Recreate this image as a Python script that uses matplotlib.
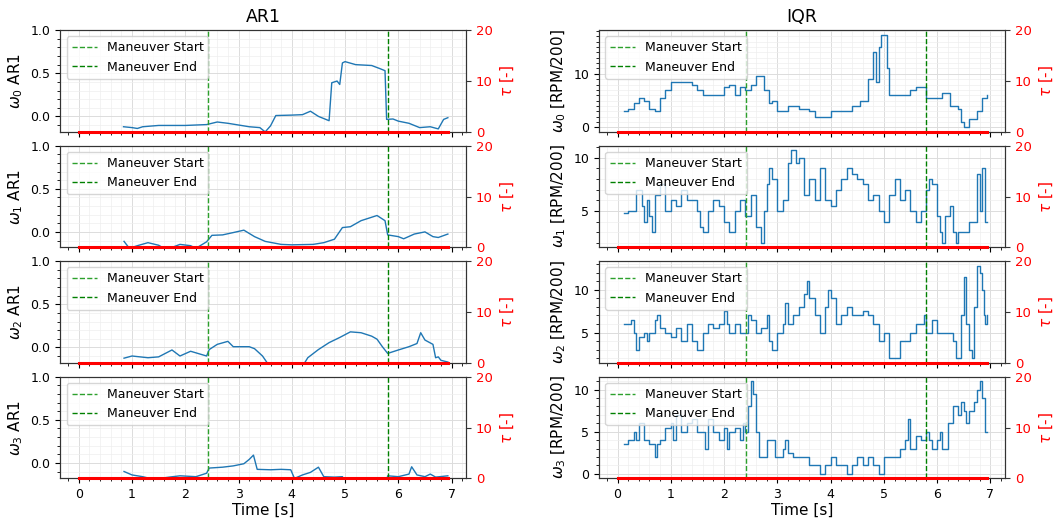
import matplotlib.pyplot as plt
from matplotlib.ticker import MultipleLocator
import numpy as np

# maneuver window [s]
maneuver_start = 2.42
maneuver_end = 5.80

# tau series (stays at zero over the whole record)
tau_t = [0.0, 6.93]
tau_v = [0.0, 0.0]

# ---- AR1 coefficients, one (time, value) pair of lists per motor ----
ar1_t0 = [0.84, 1.0, 1.1, 1.2, 1.5, 1.8, 2.0, 2.2, 2.4, 2.6, 2.8, 3.0, 3.2, 3.4, 3.5, 3.6, 3.7,
          4.0, 4.2, 4.35, 4.5, 4.7, 4.75, 4.85, 4.9, 4.95, 5.0, 5.2, 5.5, 5.65, 5.75, 5.78, 5.9,
          6.0, 6.2, 6.4, 6.6, 6.75, 6.85, 6.93]
ar1_v0 = [-0.12, -0.13, -0.14, -0.12, -0.105, -0.105, -0.105, -0.10, -0.095, -0.065, -0.08, -0.10,
          -0.12, -0.13, -0.18, -0.11, 0.01, 0.015, 0.02, 0.06, 0.0, -0.05, 0.39, 0.41, 0.37, 0.62,
          0.635, 0.60, 0.59, 0.555, 0.53, -0.035, -0.03, -0.055, -0.08, -0.13, -0.12, -0.145,
          -0.035, -0.015]

ar1_t1 = [0.85, 0.95, 1.1, 1.3, 1.5, 1.6, 1.75, 1.9, 2.1, 2.2, 2.4, 2.5, 2.7, 2.9, 3.1, 3.3, 3.5,
          3.8, 4.0, 4.4, 4.6, 4.8, 4.95, 5.1, 5.3, 5.5, 5.6, 5.75, 5.8, 6.0, 6.1, 6.3, 6.5, 6.65,
          6.75, 6.93]
ar1_v1 = [-0.11, -0.19, -0.16, -0.125, -0.155, -0.19, -0.18, -0.145, -0.16, -0.19, -0.115, -0.04,
          -0.035, -0.008, 0.02, -0.055, -0.11, -0.145, -0.15, -0.145, -0.125, -0.085, 0.05, 0.06,
          0.13, 0.17, 0.19, 0.13, -0.035, -0.055, -0.08, -0.025, 0.0, -0.055, -0.065, -0.025]

ar1_t2 = [0.85, 1.0, 1.3, 1.5, 1.75, 1.9, 2.1, 2.4, 2.45, 2.6, 2.8, 2.9, 3.2, 3.3, 3.45, 3.55,
          3.7, 4.0, 4.2, 4.3, 4.5, 4.7, 4.9, 5.1, 5.3, 5.5, 5.6, 5.7, 5.8, 6.0, 6.2, 6.35, 6.42,
          6.5, 6.65, 6.7, 6.75, 6.8, 6.93]
ar1_v2 = [-0.125, -0.10, -0.12, -0.11, -0.03, -0.10, -0.045, -0.10, -0.025, 0.035, 0.07, 0.008,
          0.008, -0.015, -0.10, -0.19, -0.24, -0.25, -0.22, -0.12, -0.025, 0.055, 0.115, 0.18,
          0.17, 0.13, 0.095, 0.008, -0.07, -0.03, 0.008, 0.045, 0.17, 0.085, 0.035, -0.12, -0.11,
          -0.15, -0.17]

ar1_t3 = [0.85, 1.0, 1.2, 1.4, 1.7, 1.9, 2.2, 2.4, 2.45, 2.7, 2.9, 3.1, 3.2, 3.28, 3.35, 3.6,
          3.8, 3.98, 4.05, 4.2, 4.35, 4.5, 4.6, 4.8, 4.95, 5.0, 5.4, 5.78, 5.8, 6.0, 6.2, 6.25,
          6.35, 6.5, 6.6, 6.7, 6.93]
ar1_v3 = [-0.10, -0.14, -0.16, -0.19, -0.165, -0.15, -0.16, -0.12, -0.06, -0.05, -0.035, -0.01,
          0.04, 0.09, -0.075, -0.08, -0.075, -0.08, -0.18, -0.14, -0.11, -0.05, -0.16, -0.165,
          -0.16, -0.22, -0.24, -0.22, -0.15, -0.16, -0.13, -0.045, -0.14, -0.16, -0.13, -0.165,
          -0.15]

# ---- IQR of motor speed [RPM/200] ----
iqr_t0 = [0.12, 0.2, 0.3, 0.4, 0.5, 0.6, 0.7, 0.8, 0.9, 1.0, 1.2, 1.4, 1.5, 1.6, 1.8, 2.0, 2.1,
          2.2, 2.3, 2.4, 2.5, 2.6, 2.7, 2.75, 2.85, 2.9, 3.0, 3.2, 3.4, 3.6, 3.7, 3.9, 4.0, 4.2,
          4.4, 4.55, 4.7, 4.8, 4.85, 4.9, 4.95, 5.05, 5.1, 5.3, 5.5, 5.6, 5.8, 6.0, 6.1, 6.25,
          6.4, 6.45, 6.5, 6.55, 6.6, 6.75, 6.85, 6.93]
iqr_v0 = [3, 3.5, 4.5, 5.5, 5, 3.5, 3, 5.5, 7, 8.5, 8.5, 8, 7, 6, 6, 7.5, 8, 6, 7.5, 7, 8, 9.5,
          9.5, 7, 4.5, 5, 3, 4, 3.5, 3, 2, 2, 3, 3, 4, 5, 9, 14, 8.5, 15, 17.3, 11, 6, 6, 7, 7.5,
          5.5, 5.5, 6.5, 4, 3.5, 1, 0, 0, 1.5, 3, 5.5, 6]

iqr_t1 = [0.12, 0.2, 0.3, 0.35, 0.45, 0.5, 0.55, 0.6, 0.65, 0.7, 0.8, 0.9, 1.0, 1.1, 1.2, 1.3,
          1.4, 1.5, 1.55, 1.6, 1.7, 1.8, 1.9, 2.0, 2.1, 2.2, 2.3, 2.4, 2.5, 2.6, 2.7, 2.75, 2.8,
          2.85, 2.9, 3.0, 3.05, 3.1, 3.2, 3.25, 3.35, 3.4, 3.5, 3.6, 3.7, 3.8, 3.9, 4.0, 4.1, 4.2,
          4.3, 4.4, 4.5, 4.6, 4.7, 4.8, 4.9, 5.0, 5.1, 5.2, 5.3, 5.4, 5.5, 5.6, 5.7, 5.8, 5.85,
          5.9, 6.0, 6.05, 6.1, 6.15, 6.25, 6.3, 6.35, 6.4, 6.5, 6.6, 6.7, 6.75, 6.8, 6.85, 6.9,
          6.93]
iqr_v1 = [4.8, 5, 5, 7, 5.5, 4, 6, 4.5, 3, 6.5, 7.5, 5, 6, 5.5, 7, 6, 6, 5, 3.5, 3, 5, 6, 5.5, 4,
          3, 5, 6, 4.5, 6.5, 3.5, 2, 5, 7.5, 9, 8, 5, 5, 6, 9.5, 10.7, 9.5, 10, 6.5, 8, 6, 9, 6,
          5.5, 7, 8, 9, 8.5, 8, 7.5, 6, 6.5, 5, 4, 6.5, 8, 6, 7, 5, 4, 5, 7, 8, 7.5, 4.5, 3, 2,
          4.5, 5.5, 3, 2, 3, 3, 4, 4, 8.5, 5, 9, 4, 4]

iqr_t2 = [0.12, 0.2, 0.25, 0.3, 0.35, 0.4, 0.5, 0.55, 0.6, 0.7, 0.75, 0.8, 0.9, 1.0, 1.1, 1.2,
          1.3, 1.4, 1.5, 1.6, 1.7, 1.8, 1.9, 2.0, 2.05, 2.1, 2.2, 2.3, 2.4, 2.45, 2.5, 2.6, 2.7,
          2.8, 2.85, 2.9, 3.0, 3.1, 3.15, 3.2, 3.3, 3.4, 3.5, 3.55, 3.6, 3.7, 3.8, 3.9, 3.95, 4.0,
          4.1, 4.2, 4.3, 4.4, 4.5, 4.6, 4.7, 4.8, 4.9, 5.0, 5.1, 5.2, 5.3, 5.4, 5.5, 5.6, 5.7,
          5.75, 5.8, 5.9, 6.0, 6.1, 6.2, 6.3, 6.35, 6.4, 6.45, 6.5, 6.55, 6.6, 6.65, 6.7, 6.75,
          6.8, 6.85, 6.88, 6.9, 6.93]
iqr_v2 = [6, 6, 6.5, 5, 3, 4.5, 5, 4, 5, 6.5, 7, 5.5, 5, 4.5, 5.5, 4, 6, 4, 3, 5, 6, 5.5, 6, 7.5,
          6, 5, 6, 5, 5, 7, 6.5, 5, 5.5, 7, 4, 3, 5, 6, 8.5, 6, 7, 8, 9.5, 11, 9, 7, 5, 8, 10, 9,
          6, 7, 8, 7, 7, 7.5, 7, 6, 4, 5, 2, 2, 4, 4, 5, 6, 6, 7, 5, 6.5, 5, 5, 5, 4, 2, 2, 7,
          11.5, 6, 3, 2, 8, 12.8, 12, 10, 7, 6, 7]

iqr_t3 = [0.12, 0.2, 0.3, 0.35, 0.4, 0.5, 0.6, 0.7, 0.75, 0.8, 0.9, 1.0, 1.05, 1.1, 1.2, 1.3,
          1.4, 1.5, 1.6, 1.65, 1.7, 1.8, 1.9, 2.0, 2.05, 2.1, 2.2, 2.3, 2.35, 2.4, 2.45, 2.5,
          2.55, 2.6, 2.65, 2.7, 2.8, 2.9, 2.95, 3.0, 3.1, 3.15, 3.2, 3.3, 3.4, 3.5, 3.6, 3.7, 3.8,
          3.9, 4.0, 4.1, 4.2, 4.3, 4.4, 4.5, 4.6, 4.7, 4.8, 4.9, 5.0, 5.1, 5.2, 5.3, 5.4, 5.45,
          5.5, 5.6, 5.7, 5.8, 5.85, 5.9, 6.0, 6.05, 6.1, 6.2, 6.3, 6.4, 6.45, 6.5, 6.55, 6.6, 6.7,
          6.75, 6.8, 6.85, 6.9, 6.93]
iqr_v3 = [3.5, 4, 5, 4, 6, 4, 3.5, 2, 3.5, 4, 5.5, 6, 4, 7, 5, 6, 6.5, 5, 5, 3, 6.5, 5, 4, 5.5,
          3, 5, 5.5, 4, 6, 5, 8, 11, 9.5, 5, 2, 2, 4, 4, 2, 2, 3, 4, 2.5, 2, 2, 2, 1, 1, 0, 1, 2,
          1, 1, 0, 1, 2, 1, 2, 1, 0, 2, 2, 2, 3, 4, 6.5, 3, 4.5, 4, 5, 4, 3, 4, 5, 3, 6, 8, 7,
          8.5, 7.5, 6, 7.5, 8.5, 10, 11, 9, 5, 5]

ar1_series = [(ar1_t0, ar1_v0), (ar1_t1, ar1_v1), (ar1_t2, ar1_v2), (ar1_t3, ar1_v3)]
iqr_series = [(iqr_t0, iqr_v0), (iqr_t1, iqr_v1), (iqr_t2, iqr_v2), (iqr_t3, iqr_v3)]
iqr_tick_step = [10, 5, 5, 5]

plt.rcParams['font.size'] = 9
plt.rcParams['axes.edgecolor'] = '#333333'

fig, axes = plt.subplots(4, 2, figsize=(10.58, 5.2), dpi=100, sharex=True)
fig.subplots_adjust(left=0.057, right=0.950, top=0.942, bottom=0.080, wspace=0.327, hspace=0.135)


def style_panel(ax, ylabel):
    ax.axvline(maneuver_start, color='#2ca02c', linestyle='--', linewidth=1, label='Maneuver Start')
    ax.axvline(maneuver_end, color='g', linestyle='--', linewidth=1, label='Maneuver End')
    ax.minorticks_on()
    ax.grid(which='major', color='#dcdcdc', linewidth=0.7)
    ax.grid(which='minor', color='#eeeeee', linewidth=0.5)
    ax.set_ylabel(ylabel, fontsize=11)
    ax.legend(loc='upper left')
    # tau on the right axis
    ax2 = ax.twinx()
    ax2.plot(tau_t, tau_v, color='red', linewidth=2.2, clip_on=False, zorder=3)
    ax2.set_ylim(0, 20)
    ax2.set_yticks([0, 10, 20])
    ax2.tick_params(axis='y', colors='red', labelsize=9.5)
    for lab in ax2.get_yticklabels():
        lab.set_color('red')
    ax2.tick_params(axis='y', which='both', color='#333333')
    ax2.spines['right'].set_color('#333333')
    ax2.set_ylabel(r'$\tau$ [-]', color='red', fontsize=11)


for i in range(4):
    # AR1 column
    ax = axes[i, 0]
    t, v = ar1_series[i]
    ax.plot(t, v, color='tab:blue', linewidth=1)
    ax.set_ylim(-0.18, 1.0)
    ax.set_yticks([0.0, 0.5, 1.0])
    style_panel(ax, r'$\omega_%d$ AR1' % i)

    # IQR column
    ax = axes[i, 1]
    t, v = iqr_series[i]
    ax.plot(t, v, color='tab:blue', linewidth=1, drawstyle='steps-post')
    ax.yaxis.set_major_locator(MultipleLocator(iqr_tick_step[i]))
    style_panel(ax, r'$\omega_%d$ [RPM/200]' % i)
    ax.yaxis.set_minor_locator(MultipleLocator(1))

axes[0, 0].set_title('AR1', fontsize=12.5)
axes[0, 1].set_title('IQR', fontsize=12.5)
axes[3, 0].set_xlabel('Time [s]', fontsize=11, labelpad=1)
axes[3, 1].set_xlabel('Time [s]', fontsize=11, labelpad=1)
axes[3, 0].set_xticks(np.arange(0, 8))

fig.savefig('out.png')
